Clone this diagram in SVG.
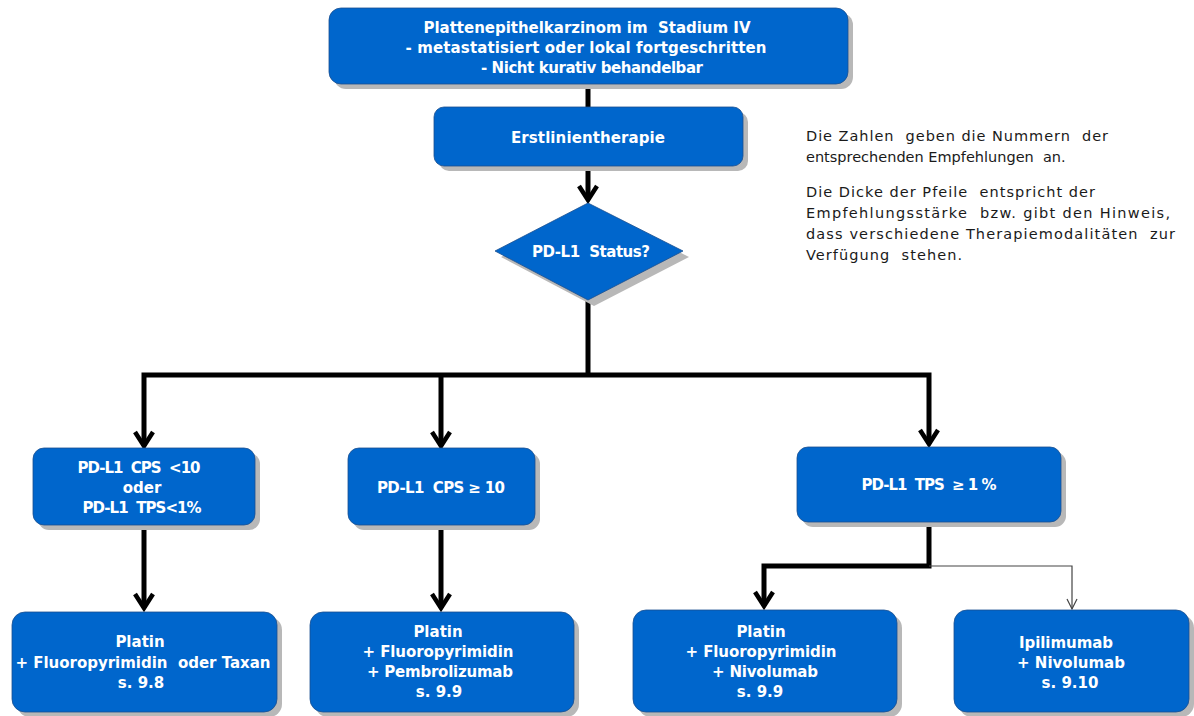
<svg xmlns="http://www.w3.org/2000/svg" width="1194" height="716" viewBox="0 0 1194 716" xml:space="preserve">
<defs>
<style>
.box{fill:#0066cc;stroke:#1a4f8f;stroke-width:0.8}
.sh{fill:#b8b8b8}
.t{font-family:"DejaVu Sans",Verdana,sans-serif;font-weight:bold;font-size:15px;fill:#ffffff;text-anchor:middle;white-space:pre}
.lg{font-family:"DejaVu Sans",Verdana,sans-serif;font-size:14.5px;fill:#1a1a1a;white-space:pre}
.c{fill:none;stroke:#000;stroke-width:5;stroke-linejoin:miter}
.ah{fill:none;stroke:#000;stroke-width:4.5;stroke-linejoin:miter}
.thin{fill:none;stroke:#444;stroke-width:1.2}
</style>
</defs>
<rect width="1194" height="716" fill="#ffffff"/>

<g id="connectors">
<line class="c" x1="588" y1="84" x2="588" y2="107"/>
<path class="c" d="M588,166 V198"/>
<path class="ah" d="M579,186 L588,200 L597,186"/>
<path class="c" d="M588,300 V375"/>
<path class="c" d="M144,446 V375 H929 V444"/>
<path class="c" d="M441,375 V446"/>
<path class="ah" d="M135,432 L144,446 L153,432"/>
<path class="ah" d="M432,432 L441,446 L450,432"/>
<path class="ah" d="M920,430 L929,444 L938,430"/>
<path class="c" d="M144,525 V608"/>
<path class="ah" d="M135,594 L144,608 L153,594"/>
<path class="c" d="M441,525 V608"/>
<path class="ah" d="M432,594 L441,608 L450,594"/>
<path class="c" d="M929,522 V566 H764 V606"/>
<path class="ah" d="M755,592 L764,606 L773,592"/>
<path class="thin" d="M929,566 H1072 V609"/>
<path d="M1067,599 L1072,609 L1077,599" fill="none" stroke="#444" stroke-width="1.2"/>
</g>

<g id="n-top">
<rect class="sh" x="334" y="13" width="519" height="76" rx="12"/>
<rect class="box" x="329" y="8" width="519" height="76" rx="12"/>
<text class="t" x="587" y="33" textLength="327">Plattenepithelkarzinom im  Stadium IV</text>
<text class="t" x="586" y="53" textLength="361">- metastatisiert oder lokal fortgeschritten</text>
<text class="t" x="592" y="73" textLength="222">- Nicht kurativ behandelbar</text>
</g>

<g id="n-erst">
<rect class="sh" x="439" y="112" width="309" height="59" rx="10"/>
<rect class="box" x="434" y="107" width="309" height="59" rx="10"/>
<text class="t" x="588" y="143" textLength="154">Erstlinientherapie</text>
</g>

<g id="n-status">
<polygon class="sh" points="594,209 689,257 594,306 501,257"/>
<polygon class="box" points="588,203 683,251 588,300 495,251"/>
<text class="t" x="591" y="257" textLength="118">PD-L1  Status?</text>
</g>

<g id="legend">
<text class="lg" x="806" y="141" textLength="302">Die Zahlen  geben die Nummern  der</text>
<text class="lg" x="806" y="162">entsprechenden Empfehlungen  an.</text>
<text class="lg" x="806" y="197" textLength="289">Die Dicke der Pfeile  entspricht der</text>
<text class="lg" x="806" y="218" textLength="364">Empfehlungsstärke  bzw. gibt den Hinweis,</text>
<text class="lg" x="806" y="239" textLength="369">dass verschiedene Therapiemodalitäten  zur</text>
<text class="lg" x="806" y="260" textLength="156">Verfügung  stehen.</text>
</g>

<g id="n-cps10">
<rect class="sh" x="38" y="453" width="222" height="77" rx="11"/>
<rect class="box" x="33" y="448" width="222" height="77" rx="11"/>
<text class="t" x="139" y="473" textLength="123">PD-L1  CPS  &lt;10</text>
<text class="t" x="142" y="493">oder</text>
<text class="t" x="142" y="513" textLength="119">PD-L1  TPS&lt;1%</text>
</g>

<g id="n-cpsge10">
<rect class="sh" x="353" y="453" width="187" height="77" rx="11"/>
<rect class="box" x="348" y="448" width="187" height="77" rx="11"/>
<text class="t" x="441" y="493" textLength="128">PD-L1  CPS ≥ 10</text>
</g>

<g id="n-tps">
<rect class="sh" x="802" y="452" width="264" height="75" rx="11"/>
<rect class="box" x="797" y="447" width="264" height="75" rx="11"/>
<text class="t" x="929" y="490" textLength="135">PD-L1  TPS  ≥ 1 %</text>
</g>

<g id="n-b1">
<rect class="sh" x="17" y="617" width="265" height="100" rx="13"/>
<rect class="box" x="12" y="612" width="265" height="100" rx="13"/>
<text class="t" x="140" y="647">Platin</text>
<text class="t" x="143" y="668" textLength="255">+ Fluoropyrimidin  oder Taxan</text>
<text class="t" x="141" y="688">s. 9.8</text>
</g>

<g id="n-b2">
<rect class="sh" x="315" y="617" width="264" height="100" rx="13"/>
<rect class="box" x="310" y="612" width="264" height="100" rx="13"/>
<text class="t" x="438" y="637">Platin</text>
<text class="t" x="438" y="657" textLength="151">+ Fluoropyrimidin</text>
<text class="t" x="440" y="677" textLength="146">+ Pembrolizumab</text>
<text class="t" x="439" y="697">s. 9.9</text>
</g>

<g id="n-b3">
<rect class="sh" x="638" y="615" width="264" height="102" rx="13"/>
<rect class="box" x="633" y="610" width="264" height="102" rx="13"/>
<text class="t" x="761" y="637">Platin</text>
<text class="t" x="761" y="657" textLength="151">+ Fluoropyrimidin</text>
<text class="t" x="765" y="677" textLength="106">+ Nivolumab</text>
<text class="t" x="760" y="697">s. 9.9</text>
</g>

<g id="n-b4">
<rect class="sh" x="959" y="615" width="235" height="102" rx="13"/>
<rect class="box" x="954" y="610" width="235" height="102" rx="13"/>
<text class="t" x="1066" y="648" textLength="94">Ipilimumab</text>
<text class="t" x="1071" y="668" textLength="108">+ Nivolumab</text>
<text class="t" x="1070" y="688">s. 9.10</text>
</g>
</svg>
